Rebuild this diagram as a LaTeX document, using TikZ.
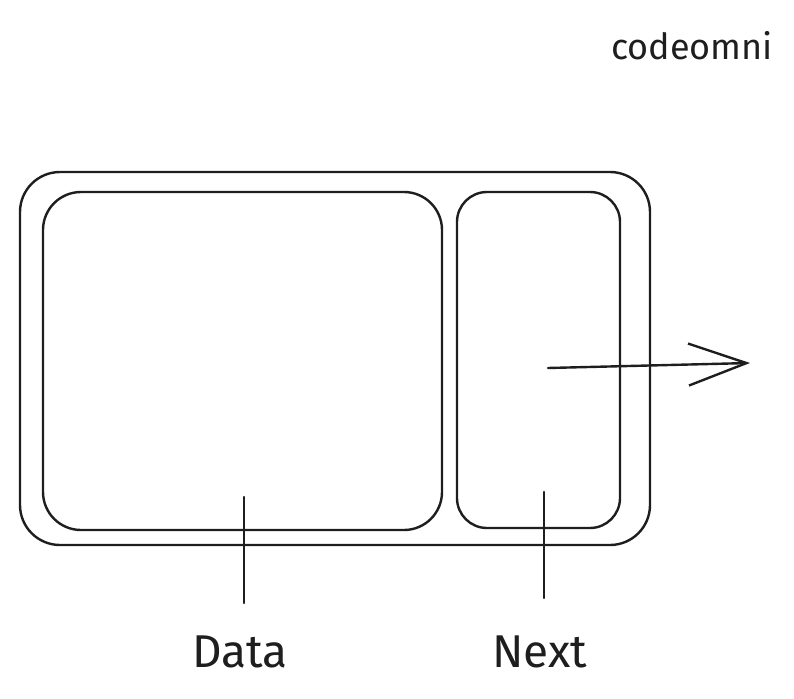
\documentclass[tikz,border=0pt]{standalone}
\usepackage{fontspec}
\setmainfont{Fira Sans}
\usetikzlibrary{arrows.meta, positioning}
\definecolor{ink}{HTML}{1E1E1E}

\begin{document}
\begin{tikzpicture}[
    x=1pt, y=-1pt, line width=2.4pt, line cap=round, color=ink,
    box/.style={draw, minimum width=#1},
    label/.style={font=\fontsize{46}{50}\selectfont, inner sep=0pt},
    >={Straight Barb[length=58pt, width=42pt, line width=2.4pt]}
]
\useasboundingbox (0,0) rectangle (794,698);
\node (brand) [inner sep=0pt, font=\fontsize{36}{40}\selectfont] at (692,46) {codeomni};
\node (outer) [box=630pt, minimum height=373pt, rounded corners=40pt] at (335,358.5) {};
\node (data_box) [box=399pt, minimum height=338pt, rounded corners=38pt] at (242.5,361) {};
\node (next_box) [box=163pt, minimum height=336pt, rounded corners=30pt] at (538.5,360) {};
\node (data_label) [label] at (240,652) {Data};
\node (next_label) [label] at (540,652) {Next};
\coordinate (data_pin) at (244,497);
\coordinate (next_pin) at (544,492);
\coordinate (next_ptr) at (548,368);
\coordinate (next_end) at (750,363);
\draw (data_pin) -- (244,603);
\draw (next_pin) -- (544,598);
\draw[->] (next_ptr) -- (next_end);
\end{tikzpicture}
\end{document}
